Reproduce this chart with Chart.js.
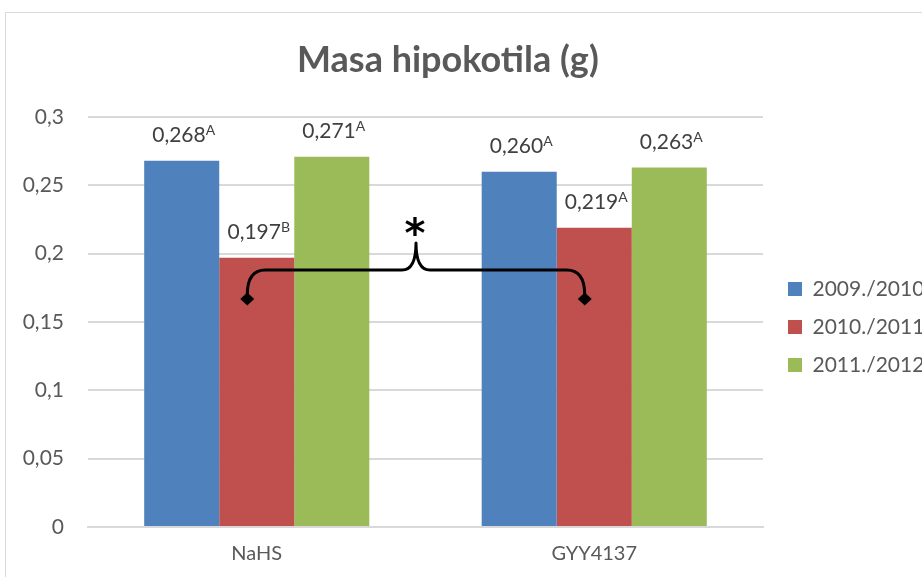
<!DOCTYPE html>
<html>
<head>
<meta charset="utf-8">
<script src="https://cdn.jsdelivr.net/npm/chart.js@4.4.1/dist/chart.umd.min.js"></script>
<style>
    html, body { margin: 0; padding: 0; background: #fff; overflow: hidden; }
    body { width: 922px; height: 577px; position: relative; }
    #frame { position: absolute; left: 5px; top: 12px; width: 1000px; height: 1000px; border: 1px solid #d9d9d9; }
    #wrap { position: absolute; left: 0; top: 0; width: 922px; height: 577px; }
</style>
</head>
<body>
<div id="frame"></div>
<div id="wrap"><canvas id="barchart"></canvas></div>
<script>
    const categories = ['NaHS', 'GYY4137'];
    const seasons = ['2009./2010.', '2010./2011.', '2011./2012.'];
    const values2009 = [0.268, 0.260];
    const values2010 = [0.197, 0.219];
    const values2011 = [0.271, 0.263];
    const letters2009 = ['A', 'A'];
    const letters2010 = ['B', 'A'];
    const letters2011 = ['A', 'A'];
    const yTickLabels = ['0', '0,05', '0,1', '0,15', '0,2', '0,25', '0,3'];

    const colors = ['#4f81bd', '#c0504d', '#9bbb59'];
    const seriesValues = [values2009, values2010, values2011];
    const seriesLetters = [letters2009, letters2010, letters2011];

    // value labels with the small superscript letter
    const valueLabels = {
        id: 'valueLabels',
        afterDatasetsDraw(chart) {
            const ctx = chart.ctx;
            ctx.save();
            ctx.fillStyle = '#404040';
            ctx.textBaseline = 'alphabetic';
            ctx.textAlign = 'left';
            chart.data.datasets.forEach((ds, di) => {
                const meta = chart.getDatasetMeta(di);
                meta.data.forEach((bar, i) => {
                    const main = ds.data[i].toFixed(3).replace('.', ',');
                    const sup = seriesLetters[di][i];
                    ctx.font = '21px Lato';
                    const w1 = ctx.measureText(main).width;
                    ctx.font = '14px Lato';
                    const w2 = ctx.measureText(sup).width;
                    const x0 = bar.x - (w1 + w2) / 2 + 2;
                    const base = bar.y - 19;
                    ctx.font = '21px Lato';
                    ctx.fillText(main, x0, base);
                    ctx.font = '14px Lato';
                    ctx.fillText(sup, x0 + w1, base - 7);
                });
            });
            ctx.restore();
        }
    };

    // brace between the two red bars with the asterisk
    const brace = {
        id: 'brace',
        afterDatasetsDraw(chart) {
            const ctx = chart.ctx;
            const y = chart.scales.y;
            const red = chart.getDatasetMeta(1).data;
            const lx = red[0].x - 9.5;
            const rx = red[1].x - 9.5;
            const cx = (lx + rx) / 2;
            const yTip = y.getPixelForValue(0.1668);
            const yArm = y.getPixelForValue(0.188);
            const yPeak = y.getPixelForValue(0.2078);
            const r = 18;
            const c = 14;

            ctx.save();
            ctx.strokeStyle = '#000';
            ctx.fillStyle = '#000';
            ctx.lineWidth = 3;
            ctx.lineJoin = 'round';
            ctx.beginPath();
            ctx.moveTo(lx, yTip - 4);
            ctx.quadraticCurveTo(lx, yArm, lx + r, yArm);
            ctx.lineTo(cx - c, yArm);
            ctx.quadraticCurveTo(cx, yArm, cx, yPeak);
            ctx.quadraticCurveTo(cx, yArm, cx + c, yArm);
            ctx.lineTo(rx - r, yArm);
            ctx.quadraticCurveTo(rx, yArm, rx, yTip - 4);
            ctx.stroke();

            [lx, rx].forEach(x => {
                ctx.beginPath();
                ctx.moveTo(x, yTip - 6.5);
                ctx.lineTo(x + 7, yTip);
                ctx.lineTo(x, yTip + 6.5);
                ctx.lineTo(x - 7, yTip);
                ctx.closePath();
                ctx.fill();
            });

            ctx.font = 'bold 40px "DejaVu Sans"';
            ctx.textAlign = 'center';
            ctx.textBaseline = 'alphabetic';
            ctx.fillText('*', cx - 1, yPeak + 4);
            ctx.restore();
        }
    };

    new Chart('barchart', {
        type: 'bar',
        data: {
            labels: categories,
            datasets: seasons.map((s, i) => ({
                label: s,
                data: seriesValues[i],
                backgroundColor: colors[i],
                borderWidth: 0,
                categoryPercentage: 0.667,
                barPercentage: 1
            }))
        },
        options: {
            responsive: true,
            maintainAspectRatio: false,
            animation: false,
            layout: { padding: { left: 0, right: 0, top: 0, bottom: 0 } },
            plugins: {
                title: {
                    display: true,
                    // trailing spaces nudge the centred title a bit to the left
                    text: 'Masa hipokotila (g)\u00a0\u00a0\u00a0',
                    color: '#595959',
                    font: { family: 'Lato', size: 36, weight: 'bold' },
                    padding: { top: 38.4, bottom: 35.4 }
                },
                legend: {
                    position: 'right',
                    fullSize: false,
                    maxWidth: 151,
                    title: { display: true, text: ' ', font: { size: 8, lineHeight: 1.25 }, padding: 0 },
                    labels: {
                        boxWidth: 14,
                        boxHeight: 14,
                        padding: 17,
                        color: '#595959',
                        font: { family: 'Lato', size: 21 }
                    }
                },
                tooltip: { enabled: false }
            },
            scales: {
                x: {
                    afterFit: s => { s.height = 50; },
                    grid: { display: false, drawTicks: false },
                    border: { color: '#d9d9d9', width: 2 },
                    ticks: {
                        color: '#595959',
                        padding: 15,
                        font: { family: 'Lato', size: 20 }
                    }
                },
                y: {
                    min: 0,
                    max: 0.3,
                    afterFit: s => { s.width = 88; },
                    grid: { color: '#d9d9d9', lineWidth: 2, drawTicks: false },
                    border: { display: false },
                    ticks: {
                        stepSize: 0.05,
                        padding: 24,
                        color: '#595959',
                        font: { family: 'Lato', size: 21 },
                        callback: (v, i) => yTickLabels[i]
                    }
                },
                y2: {
                    position: 'right',
                    display: true,
                    afterFit: s => { s.width = 8; },
                    grid: { display: false },
                    border: { display: false },
                    ticks: { display: false }
                }
            }
        },
        plugins: [valueLabels, brace]
    });
</script>
</body>
</html>
